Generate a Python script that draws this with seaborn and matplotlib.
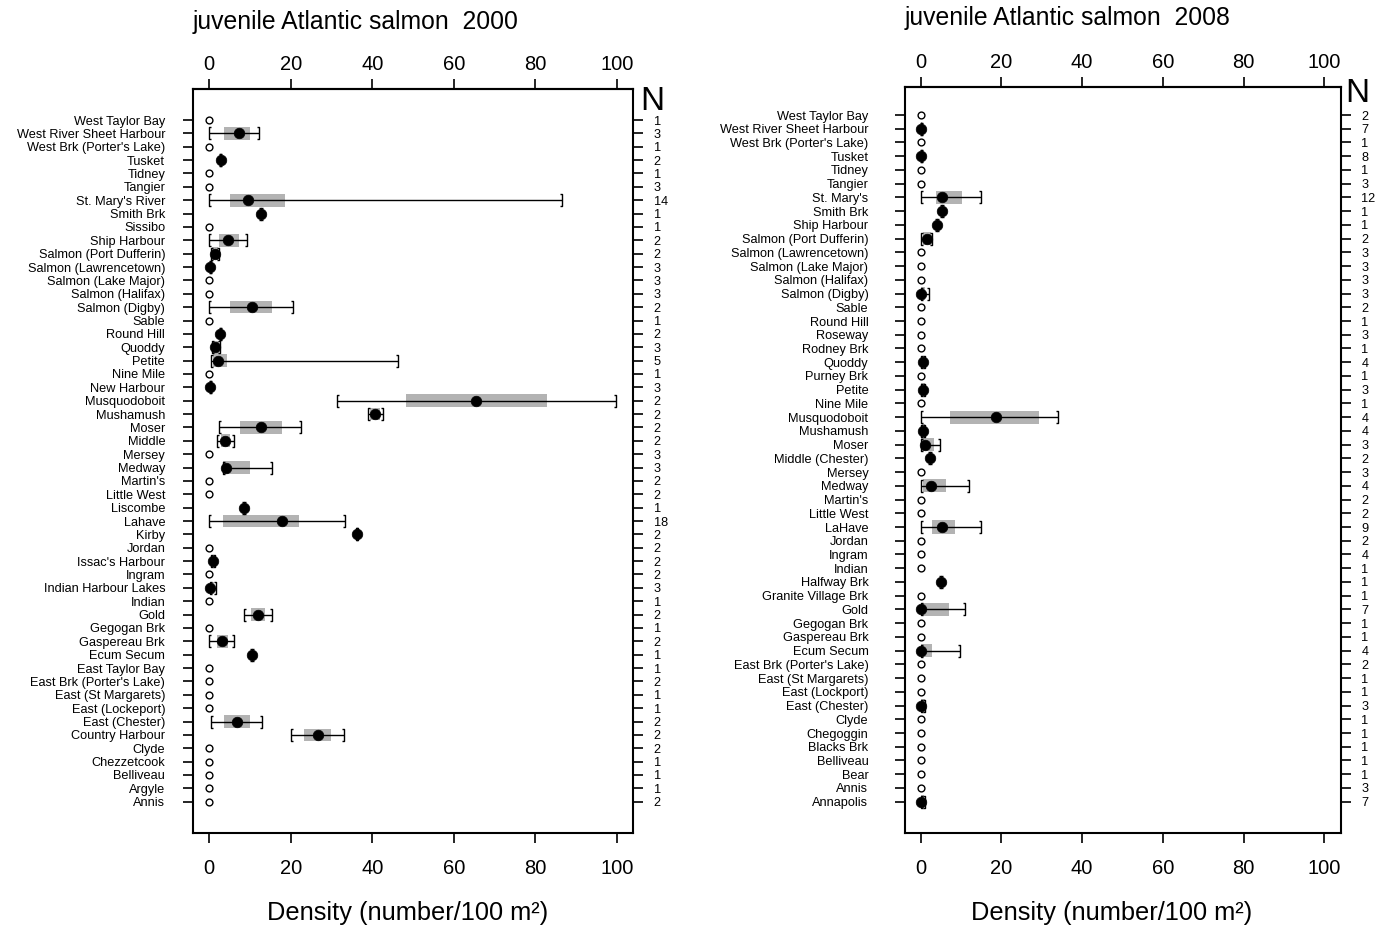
import numpy as np
import pandas as pd
import matplotlib
matplotlib.use("Agg")
import matplotlib.pyplot as plt
from matplotlib.path import Path
import seaborn as sns

# ---------------- data: 2000 ----------------
sites_2000 = ["West Taylor Bay", "West River Sheet Harbour", "West Brk (Porter's Lake)", "Tusket",
              "Tidney", "Tangier", "St. Mary's River", "Smith Brk", "Sissibo", "Ship Harbour",
              "Salmon (Port Dufferin)", "Salmon (Lawrencetown)", "Salmon (Lake Major)", "Salmon (Halifax)",
              "Salmon (Digby)", "Sable", "Round Hill", "Quoddy", "Petite", "Nine Mile", "New Harbour",
              "Musquodoboit", "Mushamush", "Moser", "Middle", "Mersey", "Medway", "Martin's",
              "Little West", "Liscombe", "Lahave", "Kirby", "Jordan", "Issac's Harbour", "Ingram",
              "Indian Harbour Lakes", "Indian", "Gold", "Gegogan Brk", "Gaspereau Brk", "Ecum Secum",
              "East Taylor Bay", "East Brk (Porter's Lake)", "East (St Margarets)", "East (Lockeport)",
              "East (Chester)", "Country Harbour", "Clyde", "Chezzetcook", "Belliveau", "Argyle", "Annis"]
n_2000 = [1, 3, 1, 2, 1, 3, 14, 1, 1, 2, 2, 3, 3, 3, 2, 1, 2, 3, 5, 1, 3, 2, 2, 2, 2, 3, 3, 2, 2, 1,
          18, 2, 2, 2, 2, 3, 1, 2, 1, 2, 1, 1, 2, 1, 1, 2, 2, 2, 1, 1, 1, 2]
min_2000 = [0, 0, 0, 2.7, 0, 0, 0, 12.8, 0, 0, 0.5, 0.1, 0, 0, 0, 0, 2.6, 0.7, 0.5, 0, 0.1,
            31.3, 39.0, 2.4, 1.8, 0, 3.3, 0, 0, 8.6, 0, 35.9, 0, 0.3, 0, 0.1, 0, 8.6, 0, 0, 10.5,
            0, 0, 0, 0, 0.4, 20.1, 0, 0, 0, 0, 0]
q1_2000 = [0, 3.6, 0, 2.8, 0, 0, 5.0, 12.8, 0, 2.4, 0.6, 0.1, 0, 0, 5.2, 0, 2.7, 0.8, 0.8, 0, 0.1,
           48.3, 39.5, 7.5, 2.8, 0, 3.3, 0, 0, 8.6, 3.3, 36.0, 0, 0.4, 0, 0.1, 0, 10.3, 0, 1.8, 10.5,
           0, 0, 0, 0, 3.6, 23.2, 0, 0, 0, 0, 0]
med_2000 = [0, 7.2, 0, 2.8, 0, 0, 9.6, 12.8, 0, 4.7, 1.3, 0.2, 0, 0, 10.4, 0, 2.7, 1.5, 2.2, 0, 0.2,
            65.5, 40.7, 12.6, 3.9, 0, 4.1, 0, 0, 8.6, 17.9, 36.2, 0, 0.9, 0, 0.2, 0, 12.0, 0, 3.1, 10.5,
            0, 0, 0, 0, 6.7, 26.6, 0, 0, 0, 0, 0]
q3_2000 = [0, 10.0, 0, 2.8, 0, 0, 18.5, 12.8, 0, 7.2, 2.2, 0.2, 0, 0, 15.5, 0, 2.7, 2.4, 4.4, 0, 0.3,
           82.8, 41.9, 17.8, 5.2, 0, 9.9, 0, 0, 8.6, 21.9, 36.4, 0, 1.3, 0, 1.2, 0, 13.7, 0, 4.6, 10.5,
           0, 0, 0, 0, 10.0, 29.9, 0, 0, 0, 0, 0]
max_2000 = [0, 12.3, 0, 2.9, 0, 0, 86.5, 12.8, 0, 9.2, 2.4, 0.3, 0, 0, 20.5, 0, 2.8, 2.6, 46.3, 0, 0.3,
            99.8, 42.6, 22.4, 6.0, 0, 15.3, 0, 0, 8.6, 33.2, 36.5, 0, 1.4, 0, 1.6, 0, 15.3, 0, 6.0, 10.5,
            0, 0, 0, 0, 12.9, 33.0, 0, 0, 0, 0, 0]

# ---------------- data: 2008 ----------------
sites_2008 = ["West Taylor Bay", "West River Sheet Harbour", "West Brk (Porter's Lake)", "Tusket",
              "Tidney", "Tangier", "St. Mary's", "Smith Brk", "Ship Harbour", "Salmon (Port Dufferin)",
              "Salmon (Lawrencetown)", "Salmon (Lake Major)", "Salmon (Halifax)", "Salmon (Digby)",
              "Sable", "Round Hill", "Roseway", "Rodney Brk", "Quoddy", "Purney Brk", "Petite",
              "Nine Mile", "Musquodoboit", "Mushamush", "Moser", "Middle (Chester)", "Mersey", "Medway",
              "Martin's", "Little West", "LaHave", "Jordan", "Ingram", "Indian", "Halfway Brk",
              "Granite Village Brk", "Gold", "Gegogan Brk", "Gaspereau Brk", "Ecum Secum",
              "East Brk (Porter's Lake)", "East (St Margarets)", "East (Lockport)", "East (Chester)",
              "Clyde", "Chegoggin", "Blacks Brk", "Belliveau", "Bear", "Annis", "Annapolis"]
n_2008 = [2, 7, 1, 8, 1, 3, 12, 1, 1, 2, 3, 3, 3, 3, 2, 1, 3, 1, 4, 1, 3, 1, 4, 4, 3, 2, 3, 4, 2, 2,
          9, 2, 4, 1, 1, 1, 7, 1, 1, 4, 2, 1, 1, 3, 1, 1, 1, 1, 1, 3, 7]
min_2008 = [0, 0.05, 0, 0.05, 0, 0, 0, 5.2, 4.1, 0, 0, 0, 0, 0, 0, 0, 0, 0, 0, 0, 0, 0, 0, 0.2, 0,
            2.2, 0, 0, 0, 0, 0, 0, 0, 0, 5.0, 0, 0, 0, 0, 0, 0, 0, 0, 0, 0, 0, 0, 0, 0, 0, 0]
q1_2008 = [0, 0.1, 0, 0.1, 0, 0, 3.9, 5.2, 4.1, 0.5, 0, 0, 0, 0, 0, 0, 0, 0, 0.1, 0, 0.1, 0, 7.3, 0.3, 0,
           2.2, 0, 0.5, 0, 0, 2.7, 0, 0, 0, 5.0, 0, 0.2, 0, 0, 0, 0, 0, 0, 0, 0, 0, 0, 0, 0, 0, 0]
med_2008 = [0, 0.2, 0, 0.2, 0, 0, 5.2, 5.2, 4.1, 1.5, 0, 0, 0, 0.2, 0, 0, 0, 0, 0.5, 0, 0.5, 0, 18.7, 0.7,
            1.1, 2.2, 0, 2.6, 0, 0, 5.2, 0, 0, 0, 5.0, 0, 0.2, 0, 0, 0.1, 0, 0, 0, 0.1, 0, 0, 0, 0, 0, 0,
            0.1]
q3_2008 = [0, 0.3, 0, 0.3, 0, 0, 10.3, 5.2, 4.1, 2.6, 0, 0, 0, 1.1, 0, 0, 0, 0, 1.0, 0, 1.0, 0, 29.4, 1.0,
           3.2, 2.2, 0, 6.2, 0, 0, 8.4, 0, 0, 0, 5.0, 0, 7.0, 0, 0, 2.7, 0, 0, 0, 1.0, 0, 0, 0, 0, 0, 0,
           0.9]
max_2008 = [0, 0.4, 0, 0.4, 0, 0, 15.0, 5.2, 4.1, 2.9, 0, 0, 0, 2.1, 0, 0, 0, 0, 1.2, 0, 1.2, 0, 34.0, 1.1,
            4.9, 2.2, 0, 11.9, 0, 0, 15.0, 0, 0, 0, 5.0, 0, 10.9, 0, 0, 9.8, 0, 0, 0, 1.1, 0, 0, 0, 0, 0, 0,
            1.1]

titles = ["juvenile Atlantic salmon  2000", "juvenile Atlantic salmon  2008"]
xlabel_text = "Density (number/100 m\u00b2)"
xticks = [0, 20, 40, 60, 80, 100]

# ---------------- style ----------------
sns.set_theme(style="white")
plt.rcParams["font.family"] = ["Liberation Sans", "DejaVu Sans"]
plt.rcParams["axes.linewidth"] = 1.5
for key in ("text.color", "axes.labelcolor", "xtick.color", "ytick.color", "axes.edgecolor"):
    plt.rcParams[key] = "black"

BOX_GREY = "#b3b3b3"
left_bracket = Path([(0.3, -1), (0, -1), (0, 1), (0.3, 1)],
                    [Path.MOVETO, Path.LINETO, Path.LINETO, Path.LINETO])
right_bracket = Path([(-0.3, -1), (0, -1), (0, 1), (-0.3, 1)],
                     [Path.MOVETO, Path.LINETO, Path.LINETO, Path.LINETO])

fig = plt.figure(figsize=(13.87, 9.26), dpi=100)
W, H = 1387.0, 926.0

TICK_FS = 14.5
YLAB_FS = 9.2


def panel(rect, sites, ns, mins, q1s, meds, q3s, maxs, ylim, title, title_xy, xlab_x, n_xy,
          ylab_pad):
    ax = fig.add_axes(rect)
    df = pd.DataFrame({"site": sites, "n": ns, "lo": mins, "q1": q1s, "med": meds,
                       "q3": q3s, "hi": maxs})
    df["row"] = np.arange(len(df))
    df["zero"] = df["hi"] <= 0
    d = df[~df["zero"]]
    z = df[df["zero"]]

    # boxes (interquartile)
    ax.barh(d["row"], d["q3"] - d["q1"], left=d["q1"], height=0.95, color=BOX_GREY,
            edgecolor="none", zorder=1)
    # whiskers with bracket ends
    ax.hlines(d["row"], d["lo"], d["hi"], color="black", lw=1.0, zorder=2)
    ax.plot(d["lo"], d["row"], ls="none", marker=left_bracket, ms=8.5, mec="black",
            mew=1.0, mfc="none", zorder=3)
    ax.plot(d["hi"], d["row"], ls="none", marker=right_bracket, ms=8.5, mec="black",
            mew=1.0, mfc="none", zorder=3)
    # medians
    sns.scatterplot(data=d, x="med", y="row", ax=ax, color="black", s=58, edgecolor="black",
                    linewidth=0.5, zorder=4, legend=False)
    sns.scatterplot(data=z, x="med", y="row", ax=ax, facecolor="white", s=24,
                    edgecolor="black", linewidth=1.0, zorder=4, legend=False)

    ax.set_xlim(-4, 104)
    ax.set_ylim(*ylim)
    ax.set_xticks(xticks)
    ax.set_xticklabels([str(v) for v in xticks])
    ax.set_yticks(df["row"])
    ax.set_yticklabels(df["site"])
    ax.set_xlabel("")
    ax.set_ylabel("")
    ax.tick_params(axis="x", top=False, bottom=True, labelbottom=True, direction="out",
                   length=7, width=1.2, labelsize=TICK_FS, pad=12, colors="black")
    ax.tick_params(axis="y", left=True, right=False, direction="out", length=7, width=1.2,
                   labelsize=YLAB_FS, pad=ylab_pad, colors="black")
    for s in ax.spines.values():
        s.set_visible(True)
        s.set_color("black")
        s.set_linewidth(1.5)

    top = ax.secondary_xaxis("top")
    top.set_xticks(xticks)
    top.set_xticklabels([str(v) for v in xticks])
    top.tick_params(axis="x", direction="out", length=7, width=1.2, labelsize=TICK_FS, pad=3.5,
                    colors="black")
    top.spines["top"].set_linewidth(1.5)

    ax2 = ax.twinx()
    ax2.set_ylim(*ylim)
    ax2.set_yticks(df["row"])
    ax2.set_yticklabels([str(v) for v in df["n"]])
    ax2.tick_params(axis="y", right=True, direction="out", length=7, width=1.2,
                    labelsize=YLAB_FS, pad=8, colors="black")
    ax2.grid(False)
    for s in ax2.spines.values():
        s.set_visible(False)

    fig.text(title_xy[0] / W, 1 - title_xy[1] / H, title, ha="left", va="center",
             fontsize=17.8, color="black")
    fig.text(xlab_x / W, 1 - 913 / H, xlabel_text, ha="center", va="center", fontsize=18.3,
             color="black")
    fig.text(n_xy[0] / W, 1 - n_xy[1] / H, "N", ha="center", va="center", fontsize=24,
             color="black")
    return ax


axL = panel([193 / W, 1 - 833 / H, 440 / W, (833 - 89) / H],
            sites_2000, n_2000, min_2000, q1_2000, med_2000, q3_2000, max_2000,
            (51 + 2.34, -2.32), titles[0], (193, 22), 408, (652, 101), 13)
axR = panel([904.5 / W, 1 - 833 / H, 436 / W, (833 - 87) / H],
            sites_2008, n_2008, min_2008, q1_2008, med_2008, q3_2008, max_2008,
            (50 + 2.28, -2.04), titles[1], (905, 18), 1112, (1357, 93), 19)

fig.savefig("out.png", dpi=100)
